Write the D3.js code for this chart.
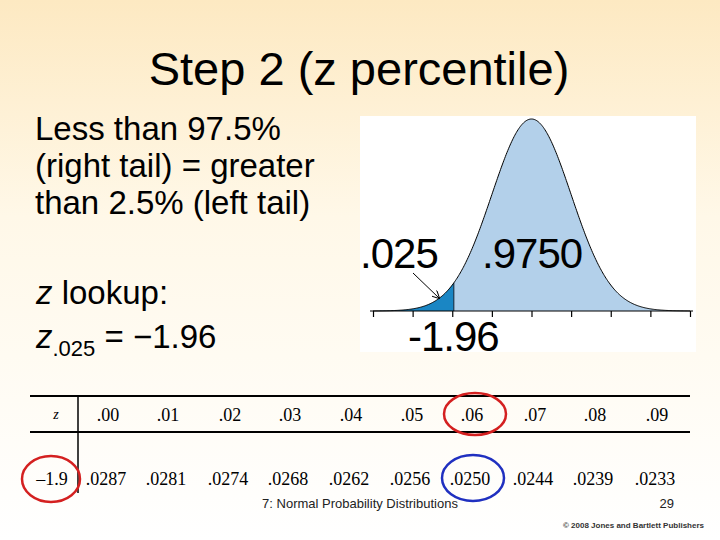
<!DOCTYPE html>
<head>
<script src="https://d3js.org/d3.v7.js"></script>
<style>
  body { margin: 0; }
  svg { font-family: Arial, "Liberation Sans", sans-serif; }
</style>
</head>
<body>
<svg id="main"></svg>
<script>
  let width = 720, height = 540

  // table data
  const colHeads = [".00", ".01", ".02", ".03", ".04", ".05", ".06", ".07", ".08", ".09"]
  const rowLabel = "\u20131.9"
  const rowValues = [".0287", ".0281", ".0274", ".0268", ".0262", ".0256", ".0250", ".0244", ".0239", ".0233"]
  const colX = [108, 168, 230, 290, 351, 412, 472, 535, 595, 657]

  // curve data
  const zTicks = [-4, -3, -2, -1, 0, 1, 2, 3, 4]
  const zCut = -1.96

  let svg = d3.select("#main").attr("width", width).attr("height", height)

  let defs = svg.append("defs")
  let grad = defs.append("linearGradient").attr("id", "bg").attr("x1", 0).attr("y1", 0).attr("x2", 0).attr("y2", 1)
  grad.append("stop").attr("offset", "0%").attr("stop-color", "#fde9c2")
  grad.append("stop").attr("offset", "40%").attr("stop-color", "#fff8e8")
  grad.append("stop").attr("offset", "100%").attr("stop-color", "#ffffff")
  defs.append("marker").attr("id", "arr").attr("markerWidth", 8).attr("markerHeight", 8)
    .attr("refX", 7).attr("refY", 4).attr("orient", "auto").attr("markerUnits", "userSpaceOnUse")
    .append("path").attr("d", "M0,0 L8,4 L0,8").attr("fill", "none").attr("stroke", "#000").attr("stroke-width", 1)

  svg.append("rect").attr("width", width).attr("height", height).attr("fill", "url(#bg)")

  // title & text
  svg.append("text").attr("x", 359).attr("y", 85).attr("text-anchor", "middle")
    .attr("font-size", 47).text("Step 2 (z percentile)")
  const lines = ["Less than 97.5%", "(right tail) = greater", "than 2.5% (left tail)"]
  svg.selectAll(".lt").data(lines).enter().append("text")
    .attr("x", 35).attr("y", (d, i) => 140 + i * 37).attr("font-size", 33).text(d => d)
  svg.append("text").attr("x", 36).attr("y", 304).attr("font-size", 33)
    .html('<tspan font-style="italic">z</tspan> lookup:')
  svg.append("text").attr("x", 36).attr("y", 348).attr("font-size", 33)
    .html('<tspan font-style="italic">z</tspan><tspan font-size="22" dy="8">.025</tspan><tspan dy="-8"> = \u22121.96</tspan>')

  // curve panel
  svg.append("rect").attr("x", 360).attr("y", 116).attr("width", 336).attr("height", 236).attr("fill", "#fff")
  let x = d3.scaleLinear().domain([-4, 4]).range([373, 690])
  let y = d3.scaleLinear().domain([0, 1 / Math.sqrt(2 * Math.PI)]).range([311, 119])
  const pdf = z => Math.exp(-z * z / 2) / Math.sqrt(2 * Math.PI)
  const zs = d3.range(-4, 4.001, 0.02)
  let area = d3.area().x(d => x(d)).y0(y(0)).y1(d => y(pdf(d)))
  svg.append("path").attr("d", area([zCut].concat(zs.filter(d => d >= zCut)))).attr("fill", "#b3d0ea")
  svg.append("path").attr("d", area(zs.filter(d => d <= zCut).concat([zCut]))).attr("fill", "#1a86c4")
  svg.append("line").attr("x1", x(zCut)).attr("x2", x(zCut)).attr("y1", y(0)).attr("y2", y(pdf(zCut)))
    .attr("stroke", "#123").attr("stroke-width", 1)
  svg.append("path").attr("d", d3.line().x(d => x(d)).y(d => y(pdf(d)))(zs))
    .attr("fill", "none").attr("stroke", "#000").attr("stroke-width", 1)
  let ax = svg.append("g").attr("transform", "translate(0," + y(0) + ")")
    .call(d3.axisBottom(x).tickValues(zTicks).tickSize(6).tickFormat(""))
  ax.select(".domain").attr("d", "M" + (x(-4) - 3) + ",0H" + (x(4) + 3))
  ax.selectAll("line").attr("stroke-width", 1.2)
  svg.append("text").attr("x", 360).attr("y", 268).attr("font-size", 42).attr("letter-spacing", -1).text(".025")
  svg.append("text").attr("x", 482).attr("y", 268).attr("font-size", 42).attr("letter-spacing", -1).text(".9750")
  svg.append("text").attr("x", 408).attr("y", 351).attr("font-size", 42).attr("letter-spacing", -1).text("-1.96")
  svg.append("line").attr("x1", 413).attr("y1", 273).attr("x2", 439).attr("y2", 298)
    .attr("stroke", "#000").attr("stroke-width", 1).attr("marker-end", "url(#arr)")

  // table
  svg.append("line").attr("x1", 30).attr("x2", 690).attr("y1", 396).attr("y2", 396).attr("stroke", "#000").attr("stroke-width", 2)
  svg.append("line").attr("x1", 30).attr("x2", 690).attr("y1", 432).attr("y2", 432).attr("stroke", "#000").attr("stroke-width", 2)
  svg.append("line").attr("x1", 78).attr("x2", 78).attr("y1", 396).attr("y2", 493).attr("stroke", "#000").attr("stroke-width", 1.5)
  let tf = '"Liberation Serif", "Times New Roman", serif'
  svg.append("text").attr("x", 56).attr("y", 419).attr("font-family", tf).attr("font-style", "italic")
    .attr("font-size", 14).attr("text-anchor", "middle").text("z")
  svg.selectAll(".ch").data(colHeads).enter().append("text")
    .attr("x", (d, i) => colX[i]).attr("y", 421).attr("font-family", tf).attr("font-size", 18)
    .attr("text-anchor", "middle").text(d => d)
  svg.selectAll(".rv").data(rowValues).enter().append("text")
    .attr("x", (d, i) => colX[i] - 2).attr("y", 485).attr("font-family", tf).attr("font-size", 18)
    .attr("text-anchor", "middle").text(d => d)
  svg.append("text").attr("x", 52).attr("y", 485).attr("font-family", tf).attr("font-size", 18)
    .attr("text-anchor", "middle").text(rowLabel)

  svg.append("ellipse").attr("cx", 475).attr("cy", 414).attr("rx", 31).attr("ry", 21)
    .attr("fill", "none").attr("stroke", "#d42020").attr("stroke-width", 2.5)
  svg.append("ellipse").attr("cx", 473).attr("cy", 478).attr("rx", 31).attr("ry", 23)
    .attr("fill", "none").attr("stroke", "#2030c0").attr("stroke-width", 2.5)
  svg.append("ellipse").attr("cx", 51).attr("cy", 479).attr("rx", 29).attr("ry", 23)
    .attr("fill", "none").attr("stroke", "#d42020").attr("stroke-width", 2.5)

  // footer
  svg.append("text").attr("x", 360).attr("y", 508).attr("text-anchor", "middle").attr("font-size", 13)
    .attr("fill", "#222").text("7: Normal Probability Distributions")
  svg.append("text").attr("x", 674).attr("y", 508).attr("text-anchor", "end").attr("font-size", 13)
    .attr("fill", "#222").text("29")
  svg.append("text").attr("x", 704).attr("y", 528).attr("text-anchor", "end").attr("font-size", 8)
    .attr("font-weight", "bold").attr("fill", "#333").text("\u00a9 2008 Jones and Bartlett Publishers")
</script>
</body>
